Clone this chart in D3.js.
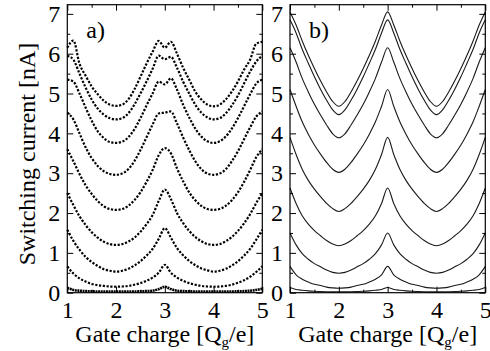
<!DOCTYPE html>
<html>
<head>
<meta charset="utf-8">
<script src="https://cdn.jsdelivr.net/npm/d3@7"></script>
<style>
  html, body { margin: 0; padding: 0; background: #fff; }
  svg text { font-family: "Liberation Serif", "Times New Roman", serif; fill: #000; }
</style>
</head>
<body>
<div id="chart"></div>
<script>
// gate charge samples, in units of e
const gateCharge = [1, 1.125, 1.25, 1.375, 1.5, 1.625, 1.75, 1.875, 2, 2.125, 2.25, 2.375, 2.5, 2.625, 2.75, 2.875, 3,
  3.125, 3.25, 3.375, 3.5, 3.625, 3.75, 3.875, 4, 4.125, 4.25, 4.375, 4.5, 4.625, 4.75, 4.875, 5];

// panel a) measured switching current [nA]
const meas1 = [6.15, 6.33, 5.75, 5.45, 5.18, 4.98, 4.82, 4.72, 4.69, 4.72, 4.85, 5.1, 5.42, 5.75, 6.05, 6.32, 6.15, 6.3, 6.0, 5.65, 5.35, 5.05, 4.85, 4.72, 4.68, 4.72, 4.85, 5.05, 5.3, 5.6, 5.85, 6.25, 6.3];
const meas2 = [5.95, 5.85, 5.5, 5.15, 4.85, 4.62, 4.47, 4.38, 4.35, 4.38, 4.5, 4.72, 5.0, 5.3, 5.62, 5.95, 5.86, 5.92, 5.65, 5.3, 5.0, 4.72, 4.52, 4.4, 4.35, 4.38, 4.5, 4.7, 4.95, 5.25, 5.55, 5.8, 5.95];
const meas3 = [5.35, 5.3, 5.0, 4.65, 4.32, 4.05, 3.88, 3.78, 3.76, 3.79, 3.9, 4.1, 4.38, 4.7, 5.0, 5.3, 5.23, 5.38, 5.1, 4.72, 4.4, 4.12, 3.92, 3.8, 3.76, 3.8, 3.92, 4.12, 4.38, 4.68, 4.98, 5.25, 5.35];
const meas4 = [4.52, 4.35, 4.0, 3.65, 3.38, 3.18, 3.05, 2.98, 2.96, 2.99, 3.1, 3.3, 3.58, 3.9, 4.22, 4.5, 4.52, 4.55, 4.25, 3.9, 3.58, 3.3, 3.1, 2.99, 2.96, 2.99, 3.1, 3.3, 3.55, 3.85, 4.15, 4.42, 4.55];
const meas5 = [3.6, 3.3, 2.98, 2.7, 2.48, 2.3, 2.17, 2.1, 2.08, 2.1, 2.18, 2.32, 2.52, 2.78, 3.08, 3.45, 3.63, 3.5, 3.12, 2.8, 2.52, 2.32, 2.18, 2.1, 2.08, 2.1, 2.18, 2.32, 2.52, 2.78, 3.08, 3.4, 3.6];
const meas6 = [2.5, 2.2, 1.92, 1.7, 1.52, 1.38, 1.28, 1.22, 1.2, 1.22, 1.28, 1.38, 1.53, 1.72, 1.95, 2.3, 2.59, 2.35, 2.0, 1.75, 1.55, 1.4, 1.29, 1.22, 1.2, 1.22, 1.29, 1.4, 1.55, 1.74, 1.97, 2.25, 2.5];
const meas7 = [1.58, 1.3, 1.08, 0.9, 0.77, 0.67, 0.59, 0.55, 0.53, 0.55, 0.6, 0.68, 0.79, 0.93, 1.1, 1.35, 1.62, 1.38, 1.12, 0.94, 0.8, 0.69, 0.61, 0.56, 0.53, 0.55, 0.6, 0.68, 0.79, 0.93, 1.1, 1.33, 1.58];
const meas8 = [0.66, 0.48, 0.36, 0.28, 0.22, 0.19, 0.17, 0.155, 0.15, 0.155, 0.17, 0.2, 0.24, 0.3, 0.38, 0.5, 0.7, 0.5, 0.38, 0.3, 0.24, 0.2, 0.17, 0.155, 0.15, 0.155, 0.17, 0.2, 0.25, 0.31, 0.4, 0.52, 0.66];
const meas9 = [0.12, 0.07, 0.05, 0.04, 0.035, 0.03, 0.03, 0.03, 0.03, 0.03, 0.03, 0.03, 0.035, 0.04, 0.05, 0.09, 0.15, 0.09, 0.05, 0.04, 0.035, 0.03, 0.03, 0.03, 0.03, 0.03, 0.03, 0.03, 0.035, 0.04, 0.05, 0.07, 0.1];

// panel b) calculated switching current [nA]
const theo1 = [7.05, 6.72, 6.32, 5.96, 5.63, 5.32, 5.04, 4.80, 4.68, 4.80, 5.04, 5.32, 5.63, 5.96, 6.32, 6.72, 7.05, 6.72, 6.32, 5.96, 5.63, 5.32, 5.04, 4.80, 4.68, 4.80, 5.04, 5.32, 5.63, 5.96, 6.32, 6.72, 7.05];
const theo2 = [6.85, 6.52, 6.11, 5.76, 5.42, 5.11, 4.83, 4.59, 4.47, 4.59, 4.83, 5.11, 5.42, 5.76, 6.11, 6.52, 6.85, 6.52, 6.11, 5.76, 5.42, 5.11, 4.83, 4.59, 4.47, 4.59, 4.83, 5.11, 5.42, 5.76, 6.11, 6.52, 6.85];
const theo3 = [6.15, 5.79, 5.38, 5.04, 4.73, 4.46, 4.21, 3.99, 3.89, 3.99, 4.21, 4.46, 4.73, 5.04, 5.38, 5.79, 6.15, 5.79, 5.38, 5.04, 4.73, 4.46, 4.21, 3.99, 3.89, 3.99, 4.21, 4.46, 4.73, 5.04, 5.38, 5.79, 6.15];
const theo4 = [5.10, 4.68, 4.29, 3.98, 3.71, 3.48, 3.27, 3.10, 3.02, 3.10, 3.27, 3.48, 3.71, 3.98, 4.29, 4.68, 5.10, 4.68, 4.29, 3.98, 3.71, 3.48, 3.27, 3.10, 3.02, 3.10, 3.27, 3.48, 3.71, 3.98, 4.29, 4.68, 5.10];
const theo5 = [3.90, 3.47, 3.10, 2.82, 2.60, 2.41, 2.24, 2.11, 2.04, 2.11, 2.24, 2.41, 2.60, 2.82, 3.10, 3.47, 3.90, 3.47, 3.10, 2.82, 2.60, 2.41, 2.24, 2.11, 2.04, 2.11, 2.24, 2.41, 2.60, 2.82, 3.10, 3.47, 3.90];
const theo6 = [2.63, 2.24, 1.93, 1.72, 1.56, 1.43, 1.31, 1.22, 1.18, 1.22, 1.31, 1.43, 1.56, 1.72, 1.93, 2.24, 2.63, 2.24, 1.93, 1.72, 1.56, 1.43, 1.31, 1.22, 1.18, 1.22, 1.31, 1.43, 1.56, 1.72, 1.93, 2.24, 2.63];
const theo7 = [1.50, 1.20, 0.98, 0.84, 0.73, 0.65, 0.57, 0.51, 0.49, 0.51, 0.57, 0.65, 0.73, 0.84, 0.98, 1.20, 1.50, 1.20, 0.98, 0.84, 0.73, 0.65, 0.57, 0.51, 0.49, 0.51, 0.57, 0.65, 0.73, 0.84, 0.98, 1.20, 1.50];
const theo8 = [0.66, 0.45, 0.34, 0.27, 0.21, 0.18, 0.14, 0.12, 0.11, 0.12, 0.14, 0.18, 0.21, 0.27, 0.34, 0.45, 0.66, 0.45, 0.34, 0.27, 0.21, 0.18, 0.14, 0.12, 0.11, 0.12, 0.14, 0.18, 0.21, 0.27, 0.34, 0.45, 0.66];
const theo9 = [0.13, 0.08, 0.06, 0.045, 0.035, 0.03, 0.025, 0.02, 0.02, 0.02, 0.025, 0.03, 0.035, 0.045, 0.06, 0.08, 0.13, 0.08, 0.06, 0.045, 0.035, 0.03, 0.025, 0.02, 0.02, 0.02, 0.025, 0.03, 0.035, 0.045, 0.06, 0.08, 0.13];

const measured = [meas1, meas2, meas3, meas4, meas5, meas6, meas7, meas8, meas9];
const theory = [theo1, theo2, theo3, theo4, theo5, theo6, theo7, theo8, theo9];

const xTicks = [1, 2, 3, 4, 5];
const xMinor = [1.5, 2.5, 3.5, 4.5];
const yTicks = [0, 1, 2, 3, 4, 5, 6, 7];
const yMinor = [0.5, 1.5, 2.5, 3.5, 4.5, 5.5, 6.5];

const width = 490, height = 351;
const plotTop = 4.7, plotBottom = 292.7;
const fontSize = 24;

const panels = [
  { label: "a)", left: 67.3, right: 262.3, series: measured, dotted: true },
  { label: "b)", left: 290, right: 485.3, series: theory, dotted: false }
];

const svg = d3.select("#chart").append("svg")
  .attr("width", width)
  .attr("height", height);

const y = d3.scaleLinear().domain([0, 7.23]).range([plotBottom, plotTop]);

function styleAxis(g) {
  g.select(".domain").remove();
  g.selectAll("line").attr("stroke", "#000").attr("stroke-width", 1);
  g.selectAll("text").attr("font-size", fontSize);
  g.attr("font-family", null).attr("font-size", null);
}

function drawPanel(p) {
  const x = d3.scaleLinear().domain([1, 5]).range([p.left, p.right]);
  const g = svg.append("g");

  const line = d3.line()
    .x((d, i) => x(gateCharge[i]))
    .y(d => y(d))
    .curve(d3.curveMonotoneX);

  const last = p.series.length - 1;
  g.selectAll("path.curve")
    .data(p.series)
    .enter()
    .append("path")
    .attr("class", "curve")
    .attr("d", line)
    .attr("fill", "none")
    .attr("stroke", p.dotted ? "#000" : "#1a1a1a")
    .attr("stroke-width", (d, i) => p.dotted ? (i === last ? 2.6 : 2.2) : 1.1)
    .attr("stroke-dasharray", (d, i) => p.dotted ? (i === last ? "2,0.6" : "2.2,1.6") : null);

  // ticks point inward on all four sides
  g.append("g").attr("transform", `translate(${p.left},0)`)
    .call(d3.axisLeft(y).tickValues(yTicks).tickSize(-6).tickPadding(7).tickFormat(d3.format("d")))
    .call(styleAxis);
  g.append("g").attr("transform", `translate(${p.left},0)`)
    .call(d3.axisLeft(y).tickValues(yMinor).tickSize(-3).tickFormat(""))
    .call(styleAxis);
  g.append("g").attr("transform", `translate(${p.right},0)`)
    .call(d3.axisRight(y).tickValues(yTicks).tickSize(-6).tickFormat(""))
    .call(styleAxis);
  g.append("g").attr("transform", `translate(${p.right},0)`)
    .call(d3.axisRight(y).tickValues(yMinor).tickSize(-3).tickFormat(""))
    .call(styleAxis);

  g.append("g").attr("transform", `translate(0,${plotBottom})`)
    .call(d3.axisBottom(x).tickValues(xTicks).tickSize(-6).tickPadding(8).tickFormat(d3.format("d")))
    .call(styleAxis);
  g.append("g").attr("transform", `translate(0,${plotBottom})`)
    .call(d3.axisBottom(x).tickValues(xMinor).tickSize(-3).tickFormat(""))
    .call(styleAxis);
  g.append("g").attr("transform", `translate(0,${plotTop})`)
    .call(d3.axisTop(x).tickValues(xTicks).tickSize(-6).tickFormat(""))
    .call(styleAxis);
  g.append("g").attr("transform", `translate(0,${plotTop})`)
    .call(d3.axisTop(x).tickValues(xMinor).tickSize(-3).tickFormat(""))
    .call(styleAxis);

  g.append("rect")
    .attr("x", p.left)
    .attr("y", plotTop)
    .attr("width", p.right - p.left)
    .attr("height", plotBottom - plotTop)
    .attr("fill", "none")
    .attr("stroke", "#000")
    .attr("stroke-width", 1.2);

  g.append("text")
    .attr("x", p.left + 19)
    .attr("y", 38)
    .attr("font-size", fontSize)
    .text(p.label);

  const title = g.append("text")
    .attr("x", (p.left + p.right) / 2)
    .attr("y", 341.5)
    .attr("text-anchor", "middle")
    .attr("font-size", fontSize);
  title.append("tspan").text("Gate charge [Q");
  title.append("tspan").attr("font-size", 15).attr("dy", 5).text("g");
  title.append("tspan").attr("dy", -5).text("/e]");
}

panels.forEach(drawPanel);

svg.append("text")
  .attr("transform", "translate(35,154) rotate(-90)")
  .attr("text-anchor", "middle")
  .attr("font-size", fontSize)
  .text("Switching current [nA]");
</script>
</body>
</html>
